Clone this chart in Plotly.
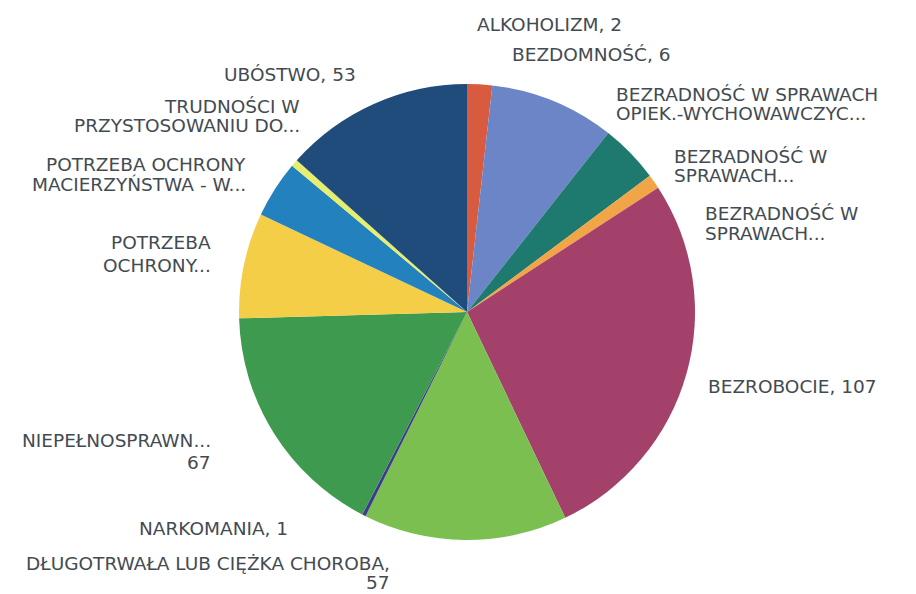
import plotly.graph_objects as go

# ---- data ----
categories = [
    "ALKOHOLIZM",
    "BEZDOMNOŚĆ",
    "BEZRADNOŚĆ W SPRAWACH OPIEK.-WYCHOWAWCZYCH",
    "BEZRADNOŚĆ W SPRAWACH (1)",
    "BEZRADNOŚĆ W SPRAWACH (2)",
    "BEZROBOCIE",
    "DŁUGOTRWAŁA LUB CIĘŻKA CHOROBA",
    "NARKOMANIA",
    "NIEPEŁNOSPRAWNOŚĆ",
    "POTRZEBA OCHRONY",
    "POTRZEBA OCHRONY MACIERZYŃSTWA",
    "TRUDNOŚCI W PRZYSTOSOWANIU DO ŻYCIA",
    "UBÓSTWO",
]
values = [7, 35, 16.5, 4, 0, 107, 57, 1, 67, 29.5, 16, 2, 53]
label_lines = [
    ["ALKOHOLIZM, 2"],
    ["BEZDOMNOŚĆ, 6"],
    ["BEZRADNOŚĆ W SPRAWACH", "OPIEK.-WYCHOWAWCZYC..."],
    ["BEZRADNOŚĆ W", "SPRAWACH..."],
    ["BEZRADNOŚĆ W", "SPRAWACH..."],
    ["BEZROBOCIE, 107"],
    ["DŁUGOTRWAŁA LUB CIĘŻKA CHOROBA,", "57"],
    ["NARKOMANIA, 1"],
    ["NIEPEŁNOSPRAWN...", "67"],
    ["POTRZEBA", "OCHRONY..."],
    ["POTRZEBA OCHRONY", "MACIERZYŃSTWA - W..."],
    ["TRUDNOŚCI W", "PRZYSTOSOWANIU DO..."],
    ["UBÓSTWO, 53"],
]
colors = [
    "#D95B3F", "#6C85C7", "#1E7A6E", "#F2A546", "#C0C0C0",
    "#A4416A", "#7BBF50", "#3D3C8C", "#3D9A4E", "#F4CE47",
    "#2381BE", "#E6EE6E", "#1F4C7B",
]

# ---- layout helpers (pixels in the 916x594 window) ----
W, H = 916, 594
OFF = 8  # the page body margin shifts the figure by this much


def px(x):
    return (x - OFF) / W


def py(y):
    return 1 - (y - OFF) / H


# (anchor side, x, y of first line centre, line pitch)
label_pos = [
    ("left", 475, 24.5, 19),
    ("left", 510, 54.5, 19),
    ("left", 614, 94.7, 19),
    ("left", 672, 156.7, 19),
    ("left", 703, 214, 19),
    ("left", 706, 386.5, 19),
    ("right", 392, 563, 19),
    ("right", 290, 528, 19),
    ("right", 213, 440, 22.5),
    ("right", 213, 243, 22),
    ("right", 248, 165, 19),
    ("right", 302, 106.3, 19),
    ("right", 358, 75, 19),
]

fig = go.Figure(
    go.Pie(
        labels=categories,
        values=values,
        sort=False,
        direction="clockwise",
        rotation=0,
        marker=dict(colors=colors, line=dict(width=0)),
        textinfo="none",
        hoverinfo="label+value",
        showlegend=False,
        domain=dict(x=[px(239), px(695)], y=[py(540), py(84)]),
    )
)

annotations = []
for lines, (side, x, y0, pitch) in zip(label_lines, label_pos):
    for i, line in enumerate(lines):
        annotations.append(
            dict(
                text=line,
                x=px(x),
                y=py(y0 + i * pitch),
                xref="paper",
                yref="paper",
                xanchor=side,
                yanchor="middle",
                showarrow=False,
                font=dict(family="DejaVu Sans", size=18.5, color="#434B52"),
            )
        )

fig.update_layout(
    width=W,
    height=H,
    margin=dict(l=0, r=0, t=0, b=0),
    paper_bgcolor="white",
    plot_bgcolor="white",
    annotations=annotations,
)

fig.write_html("out.html")
